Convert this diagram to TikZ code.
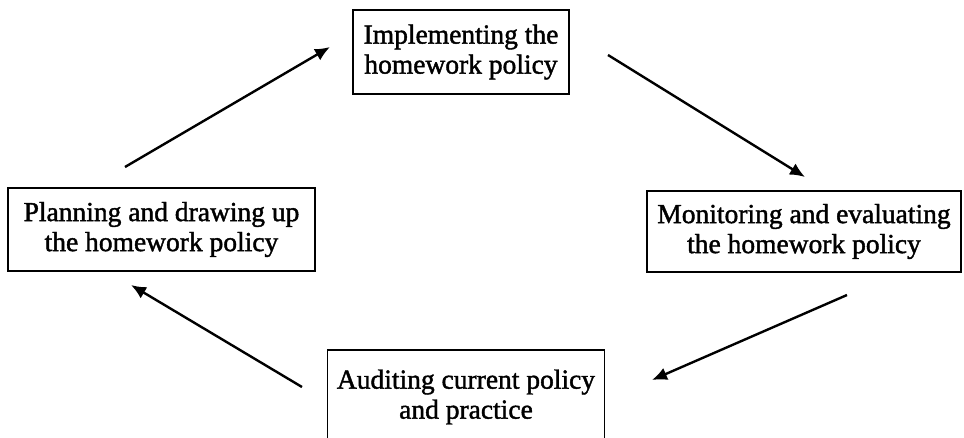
\documentclass[tikz,border=0pt]{standalone}
\usepackage{fontspec}
\setmainfont{Liberation Serif}[RawFeature={embolden=1.5}]
\usetikzlibrary{arrows.meta}

\begin{document}
\begin{tikzpicture}[x=1pt,y=-1pt,>={Latex[length=15pt,width=13pt]},
  stage/.style={draw,line width=1.8pt,align=center,inner sep=0pt,font=\fontsize{27.5}{30}\selectfont},
  flow/.style={->,line width=2.4pt}]
\useasboundingbox (0,0) rectangle (964,437);
% the four stages of the cycle
\node[stage,minimum width=216pt,minimum height=84pt] (impl) at (461,52) {Implementing the\\homework policy};
\node[stage,minimum width=307pt,minimum height=83pt] (plan) at (161.5,229.5) {Planning and drawing up\\the homework policy};
\node[stage,minimum width=314pt,minimum height=81pt] (moni) at (804,231.5) {Monitoring and evaluating\\the homework policy};
\node[stage,minimum width=277pt,minimum height=94pt] (audit) at (466,397) {Auditing current policy\\and practice};
% free ends of the arrows
\coordinate (a1) at (125,167); \coordinate (b1) at (330,47);
\coordinate (a2) at (608,55);  \coordinate (b2) at (805,177);
\coordinate (a3) at (847,295); \coordinate (b3) at (652,380);
\coordinate (a4) at (302,387); \coordinate (b4) at (131,285);
\draw[flow] (a1) -- (b1);
\draw[flow] (a2) -- (b2);
\draw[flow] (a3) -- (b3);
\draw[flow] (a4) -- (b4);
\end{tikzpicture}
\end{document}
